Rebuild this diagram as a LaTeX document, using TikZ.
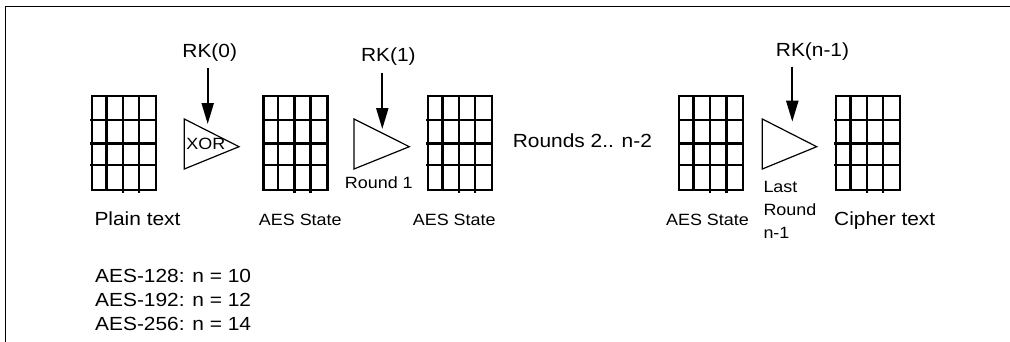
\documentclass[tikz,border=0pt]{standalone}
\usepackage{fontspec}
\setmainfont{Liberation Sans}
\newfontfamily\labfont[FakeStretch=1.1]{Liberation Sans}
\usetikzlibrary{arrows.meta}
\begin{document}
\begin{tikzpicture}[x=1pt,y=-1pt,
  gridbox/.style={draw, line width=2.4pt, minimum width=64pt, minimum height=94.3pt, inner sep=0pt, outer sep=0pt},
  gridline/.style={line width=2.4pt},
  tri/.style={draw, line width=1.2pt, line join=miter},
  keyarrow/.style={line width=2.2pt, -{Triangle[length=21pt,width=12pt]}},
  big/.style={font=\labfont\fontsize{19}{22}\selectfont, inner sep=0pt},
  small/.style={font=\labfont\fontsize{16.3}{20}\selectfont, inner sep=0pt},
  frame/.style={line width=1.8pt}]
\useasboundingbox (0,0) rectangle (1010,341);
% frame
\draw[frame] (1015,6.5) -| (5.5,345);
% state grids
\foreach \n/\x in {g0/91.7, g1/263.3, g2/427.7, g3/679, g4/835.7}{
  \node[gridbox, anchor=north west] (\n) at (\x,95.7) {};
  \begin{scope}[shift={(\n.north west)}]
    \foreach \yy in {24.3,47.6,69.3}
      \draw[gridline] (-1.5,\yy) -- (65,\yy);
    \draw[gridline] (14.6,0) -- (14.6,94.3);
    \foreach \xx in {31,47.3}
      \draw[gridline] (\xx,0) -- (\xx,97);
  \end{scope}
}
% operation triangles
\draw[tri] (184.3,119) -- (184.3,169) -- (239,146.7) -- cycle;
\draw[tri] (354,119) -- (354,169) -- (409.3,146.7) -- cycle;
\draw[tri] (762.3,119) -- (762.3,169) -- (816.7,146.7) -- cycle;
% round key labels
\node[big, anchor=base] (rk0) at (209.7,57.3) {RK(0)};
\node[big, anchor=base] (rk1) at (388.3,61.7) {RK(1)};
\node[big, anchor=base] (rkn) at (812.5,56.7) {RK(n-1)};
% arrows
\coordinate (a0s) at (207.7,68);   \coordinate (a0e) at (207.7,124);
\coordinate (a1s) at (382.3,72.7); \coordinate (a1e) at (382.3,129);
\coordinate (ans) at (792.3,66.7); \coordinate (ane) at (792.3,121.7);
\draw[keyarrow] (a0s) -- (a0e);
\draw[keyarrow] (a1s) -- (a1e);
\draw[keyarrow] (ans) -- (ane);
% labels
\node[small, anchor=base] (xor) at (205.8,149.3) {XOR};
\node[small, anchor=base] (r1) at (378.8,188.3) {Round 1};
\node[big, anchor=base west] (rounds) at (512.7,147.3) {Rounds 2.. n-2};
\node[small, anchor=base west] (last1) at (763.3,192.7) {Last};
\node[small, anchor=base west] (last2) at (763.3,215.7) {Round};
\node[small, anchor=base west] (last3) at (763.3,238.5) {n-1};
\node[big, anchor=base] (plain) at (137.5,225.7) {Plain text};
\node[small, anchor=base] (s1) at (300.3,225.7) {AES State};
\node[small, anchor=base] (s2) at (454.2,225) {AES State};
\node[small, anchor=base] (s3) at (707.5,225) {AES State};
\node[big, anchor=base] (cipher) at (884.7,225) {Cipher text};
\node[big, anchor=base west] (n128) at (95,282) {AES-128: n = 10};
\node[big, anchor=base west] (n192) at (95,306.5) {AES-192: n = 12};
\node[big, anchor=base west] (n256) at (95,330) {AES-256: n = 14};
\end{tikzpicture}
\end{document}
